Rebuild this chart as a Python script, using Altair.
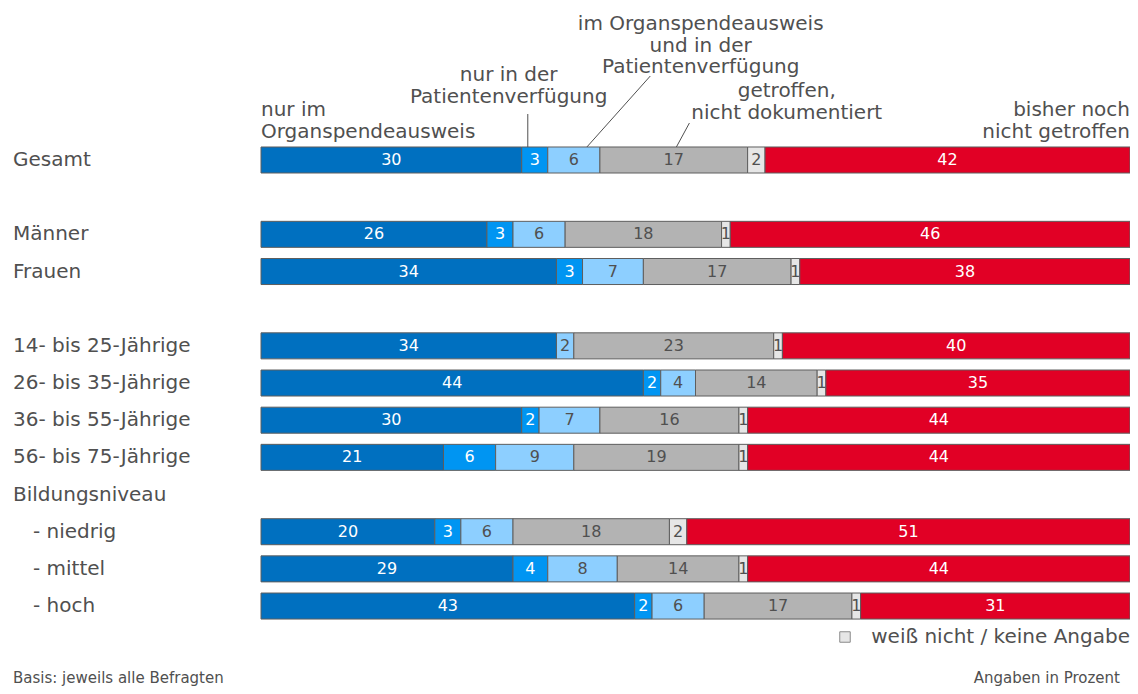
import altair as alt
import pandas as pd

# ---------------- data ----------------
categories = ["Gesamt", "Männer", "Frauen", "14- bis 25-Jährige", "26- bis 35-Jährige",
              "36- bis 55-Jährige", "56- bis 75-Jährige", "- niedrig", "- mittel", "- hoch"]
row_pos = [0, 2, 3, 5, 6, 7, 8, 10, 11, 12]
indented = [0, 0, 0, 0, 0, 0, 0, 1, 1, 1]
header_label = "Bildungsniveau"
header_row = 9

series_names = ["nur im Organspendeausweis", "nur in der Patientenverfügung",
                "im Organspendeausweis und in der Patientenverfügung",
                "getroffen, nicht dokumentiert", "weiß nicht / keine Angabe",
                "bisher noch nicht getroffen"]
nur_ausweis = [30, 26, 34, 34, 44, 30, 21, 20, 29, 43]
nur_verfuegung = [3, 3, 3, 0, 2, 2, 6, 3, 4, 2]
beides = [6, 6, 7, 2, 4, 7, 9, 6, 8, 6]
nicht_dokumentiert = [17, 18, 17, 23, 14, 16, 19, 18, 14, 17]
weiss_nicht = [2, 1, 1, 1, 1, 1, 1, 2, 1, 1]
nicht_getroffen = [42, 46, 38, 40, 35, 44, 44, 51, 44, 31]

series_values = [nur_ausweis, nur_verfuegung, beides, nicht_dokumentiert, weiss_nicht, nicht_getroffen]
series_colors = ["#0070C0", "#0095F2", "#8DCFFF", "#B3B3B3", "#E6E6E6", "#E10025"]
text_colors = ["#FFFFFF", "#FFFFFF", "#505050", "#505050", "#505050", "#FFFFFF"]

# annotation texts (y = centre of first line, in pixels from the plot top)
ann_left_text = ["nur im\nOrganspendeausweis"]
ann_left_x = [0]
ann_left_y = [102]
ann_center_text = ["nur in der\nPatientenverfügung",
                   "im Organspendeausweis\nund in der\nPatientenverfügung",
                   "getroffen,\nnicht dokumentiert"]
ann_center_x = [28.5, 50.6, 60.5]
ann_center_y = [67, 16, 83]
ann_right_text = ["bisher noch\nnicht getroffen"]
ann_right_x = [100]
ann_right_y = [102]
leader_x1 = [30.7, 44.8, 49.3]
leader_x2 = [30.7, 37.5, 47.8]
leader_y1 = [106, 68, 115]
leader_y2 = [139, 139, 139]

legend_label = "weiß nicht / keine Angabe"
footer_left = "Basis: jeweils alle Befragten"
footer_right = "Angaben in Prozent"

# ---------------- tables ----------------
recs = []
for ci, cat in enumerate(categories):
    cum = 0
    for si, s in enumerate(series_names):
        v = series_values[si][ci]
        if v > 0:
            recs.append(dict(cat=cat, row=row_pos[ci], y0=row_pos[ci] - 0.35, y1=row_pos[ci] + 0.35,
                             series=s, value=v, start=cum, end=cum + v, mid=cum + v / 2,
                             tc=text_colors[si], order=si))
        cum += v
bars = pd.DataFrame(recs)

labels_main = pd.DataFrame({"label": [c for c, i in zip(categories, indented) if not i] + [header_label],
                            "row": [r for r, i in zip(row_pos, indented) if not i] + [header_row]})
labels_sub = pd.DataFrame({"label": [c for c, i in zip(categories, indented) if i],
                           "row": [r for r, i in zip(row_pos, indented) if i]})

FONT = "DejaVu Sans"
TXT = "#505050"
W = 869
H = 678
step = 37.17
lo = -152 / step
hi = lo + H / step
xscale = alt.Scale(domain=[0, 100], nice=False, zero=False)
yscale = alt.Scale(domain=[lo, hi], reverse=True, nice=False, zero=False)

bar_layer = alt.Chart(bars).mark_bar(stroke="#5E5E5E", strokeWidth=1).encode(
    x=alt.X("start:Q", scale=xscale, axis=None),
    x2="end:Q",
    y=alt.Y("y0:Q", scale=yscale, axis=None),
    y2="y1:Q",
    color=alt.Color("series:N", scale=alt.Scale(domain=series_names, range=series_colors), legend=None),
)

val_layer = alt.Chart(bars).mark_text(font=FONT, fontSize=16, baseline="middle", align="center").encode(
    x=alt.X("mid:Q", scale=xscale, axis=None),
    y=alt.Y("row:Q", scale=yscale, axis=None),
    text=alt.Text("value:Q"),
    color=alt.Color("tc:N", scale=None),
)

lab_main = alt.Chart(labels_main).mark_text(font=FONT, fontSize=20, align="left", baseline="middle",
                                             color=TXT).encode(
    x=alt.value(-248), y=alt.Y("row:Q", scale=yscale, axis=None), text="label:N")
lab_sub = alt.Chart(labels_sub).mark_text(font=FONT, fontSize=20, align="left", baseline="middle",
                                           color=TXT).encode(
    x=alt.value(-228), y=alt.Y("row:Q", scale=yscale, axis=None), text="label:N")


def ann(texts, xs, ys, align):
    df = pd.DataFrame({"t": texts, "x": xs, "y": ys})
    return alt.Chart(df).mark_text(font=FONT, fontSize=20, align=align, baseline="middle",
                                   lineBreak="\n", lineHeight=21.5, color=TXT).encode(
        x=alt.X("x:Q", scale=xscale, axis=None), y=alt.Y("y:Q", scale=None), text="t:N")


ann_l = ann(ann_left_text, ann_left_x, ann_left_y, "left")
ann_c = ann(ann_center_text, ann_center_x, ann_center_y, "center")
ann_r = ann(ann_right_text, ann_right_x, ann_right_y, "right")

leaders = alt.Chart(pd.DataFrame({"x1": leader_x1, "x2": leader_x2, "ya": leader_y1, "yb": leader_y2})).mark_rule(
    color="#505050", strokeWidth=1).encode(
    x=alt.X("x1:Q", scale=xscale, axis=None), x2="x2:Q",
    y=alt.Y("ya:Q", scale=None), y2="yb:Q")

legend_sq = alt.Chart(pd.DataFrame({"a": [0]})).mark_square(size=110, fill="#E6E6E6", stroke="#8A8A8A",
                                                          strokeWidth=1, opacity=1).encode(
    x=alt.value(584), y=alt.value(629))
legend_txt = alt.Chart(pd.DataFrame({"t": [legend_label]})).mark_text(
    font=FONT, fontSize=20, align="right", baseline="middle", color=TXT).encode(
    x=alt.value(W), y=alt.value(629), text="t:N")
foot_l = alt.Chart(pd.DataFrame({"t": [footer_left]})).mark_text(
    font=FONT, fontSize=15, align="left", baseline="middle", color=TXT).encode(
    x=alt.value(-248), y=alt.value(670), text="t:N")
foot_r = alt.Chart(pd.DataFrame({"t": [footer_right]})).mark_text(
    font=FONT, fontSize=15, align="right", baseline="middle", color=TXT).encode(
    x=alt.value(859), y=alt.value(670), text="t:N")

chart = alt.layer(bar_layer, val_layer, lab_main, lab_sub, ann_l, ann_c, ann_r, leaders,
                  legend_sq, legend_txt, foot_l, foot_r).properties(
    width=W, height=H,
    autosize=alt.AutoSizeParams(type="none"),
    padding={"left": 253, "top": 0, "right": 0, "bottom": 0},
    background="white",
).configure_view(stroke=None)

chart.save("out.html", embed_options={"renderer": "svg", "actions": False})
